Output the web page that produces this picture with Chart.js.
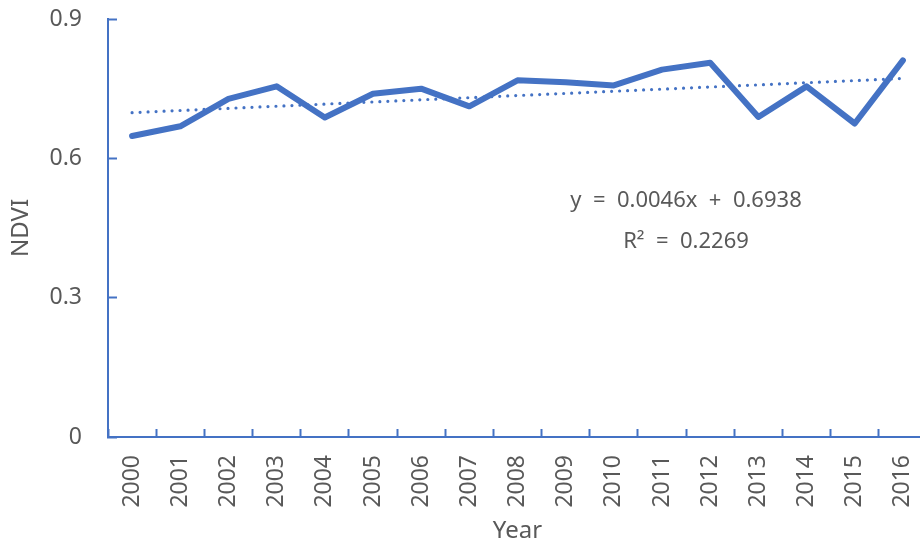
<!DOCTYPE html>
<html>
<head>
<meta charset="utf-8">
<script src="https://cdn.jsdelivr.net/npm/chart.js@4"></script>
<style>
  html, body { margin: 0; padding: 0; overflow: hidden; background: #fff; }
  #wrap { position: relative; width: 927px; height: 546px; }
</style>
</head>
<body>
<div id="wrap"><canvas id="ndviChart"></canvas></div>
<script>
const ctx = document.getElementById("ndviChart").getContext("2d");

const years = [
  "2000", "2001", "2002", "2003", "2004", "2005", "2006", "2007", "2008",
  "2009", "2010", "2011", "2012", "2013", "2014", "2015", "2016",
];
const ndvi = [
  0.648, 0.669, 0.728, 0.755, 0.688, 0.739, 0.750, 0.712, 0.768,
  0.764, 0.757, 0.791, 0.806, 0.689, 0.755, 0.675, 0.811,
];
// linear trend, y = 0.0046x + 0.6938 (values per year)
const trend = [
  0.6984, 0.7030, 0.7076, 0.7122, 0.7168, 0.7214, 0.7260, 0.7306, 0.7352,
  0.7398, 0.7444, 0.7490, 0.7536, 0.7582, 0.7628, 0.7674, 0.7720,
];
const yTicks = [0, 0.3, 0.6, 0.9];
// excel puts wide gaps round = and +
const equation = ["y  =  0.0046x  +  0.6938", "R²  =  0.2269"];

const BLUE = "#4472C4";
const GREY = "#595959";
const FONT = "'Noto Sans', sans-serif";

// trendline label
const equationLabel = {
  id: "equationLabel",
  afterDraw(chart) {
    const c = chart.ctx;
    c.save();
    c.fillStyle = GREY;
    c.font = "22px " + FONT;
    c.textAlign = "center";
    c.textBaseline = "middle";
    c.fillText(equation[0], 686, 201);
    c.fillText(equation[1], 686, 242);
    c.restore();
  },
};

const config = {
  type: "line",
  data: {
    labels: years,
    datasets: [
      {
        data: ndvi,
        borderColor: BLUE,
        borderWidth: 6,
        borderCapStyle: "round",
        borderJoinStyle: "round",
        pointRadius: 0,
        tension: 0,
      },
      {
        data: trend,
        borderColor: BLUE,
        borderWidth: 3.2,
        borderDash: [0, 8],
        borderCapStyle: "round",
        pointRadius: 0,
        tension: 0,
      },
    ],
  },
  options: {
    responsive: true,
    maintainAspectRatio: false,
    animation: false,
    layout: { padding: { top: 19, right: 0, bottom: 0, left: 0 } },
    plugins: {
      legend: { display: false },
      tooltip: { enabled: false },
    },
    scales: {
      x: {
        offset: true,
        grid: {
          offset: true,
          drawOnChartArea: false,
          tickLength: -8,
          tickWidth: 2,
          tickColor: BLUE,
        },
        border: { color: BLUE, width: 2 },
        ticks: {
          color: GREY,
          font: { family: FONT, size: 23 },
          minRotation: 90,
          maxRotation: 90,
          padding: 26,
          autoSkip: false,
        },
        title: {
          display: true,
          text: "Year",
          color: GREY,
          font: { family: FONT, size: 24 },
          padding: { top: 0, bottom: 0 },
        },
        afterFit(scale) {
          scale.height = 109;
          scale.paddingLeft = 0;
          scale.paddingRight = 0;
        },
      },
      y: {
        min: 0,
        max: 0.9,
        afterBuildTicks(scale) {
          scale.ticks = yTicks.map((v) => ({ value: v }));
        },
        grid: {
          drawOnChartArea: false,
          tickLength: -9,
          tickWidth: 2,
          tickColor: BLUE,
        },
        border: { color: BLUE, width: 2 },
        ticks: {
          color: GREY,
          font: { family: FONT, size: 23 },
          padding: 35,
          callback: (v) => String(Number(v.toFixed(1))),
        },
        title: {
          display: true,
          text: "NDVI",
          color: GREY,
          font: { family: FONT, size: 24 },
          padding: { top: 7, bottom: 0 },
        },
        afterFit(scale) {
          scale.width = 108;
          scale.paddingTop = 0;
          scale.paddingBottom = 0;
        },
      },
    },
  },
  plugins: [equationLabel],
};

if (ctx) {
  new Chart(ctx, config);
} else {
  console.error("canvas not found");
}
</script>
</body>
</html>
